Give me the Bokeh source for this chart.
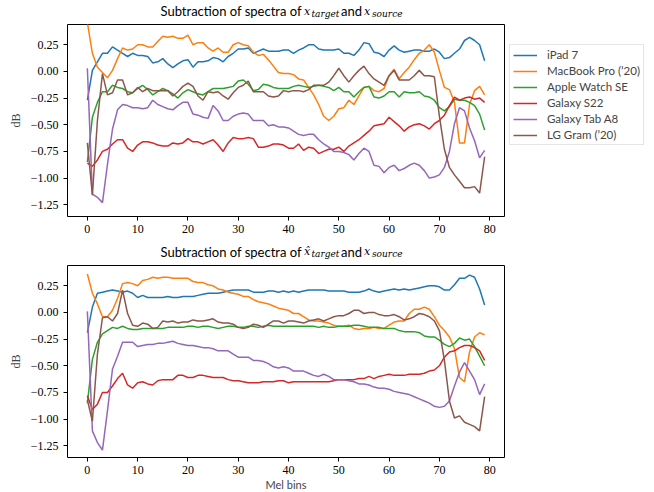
from bokeh.plotting import figure
from bokeh.layouts import column
from bokeh.models import Range1d, FixedTicker, Legend, LegendItem, Label, CustomJSTickFormatter
from bokeh.embed import file_html
from bokeh.resources import INLINE

mel_bins = list(range(80))
devices = ["iPad 7", "MacBook Pro (\u201920)", "Apple Watch SE", "Galaxy S22", "Galaxy Tab A8", "LG Gram (\u201920)"]
colors = ["#1f77b4", "#ff7f0e", "#2ca02c", "#d62728", "#9467bd", "#8c564b"]
x_ticks = [0, 10, 20, 30, 40, 50, 60, 70, 80]
y_ticks = [0.25, 0.0, -0.25, -0.5, -0.75, -1.0, -1.25]
y_tick_labels = ["0.25", "0.00", "\u22120.25", "\u22120.50", "\u22120.75", "\u22121.00", "\u22121.25"]

# ---- top panel: x_target - x_source
top_ipad7 = [-0.27, 0.01, 0.09, 0.17, 0.17, 0.23, 0.20, 0.17, 0.14, 0.17,
             0.15, 0.15, 0.14, 0.08, 0.09, 0.12, 0.07, 0.035, 0.07, 0.10,
             0.11, 0.04, 0.09, 0.09, 0.10, 0.13, 0.12, 0.09, 0.14, 0.17,
             0.21, 0.21, 0.22, 0.17, 0.19, 0.21, 0.19, 0.19, 0.19, 0.20,
             0.20, 0.17, 0.20, 0.22, 0.25, 0.25, 0.21, 0.20, 0.20, 0.20,
             0.21, 0.17, 0.17, 0.15, 0.20, 0.27, 0.26, 0.18, 0.17, 0.14,
             0.20, 0.24, 0.20, 0.18, 0.19, 0.20, 0.20, 0.19, 0.19, 0.21,
             0.18, 0.12, 0.13, 0.17, 0.21, 0.29, 0.32, 0.29, 0.25, 0.10]
top_macbook = [0.46, 0.17, 0.04, -0.01, -0.06, 0.01, 0.12, 0.22, 0.20, 0.21,
               0.25, 0.25, 0.23, 0.23, 0.28, 0.33, 0.32, 0.33, 0.31, 0.31,
               0.34, 0.25, 0.27, 0.27, 0.22, 0.19, 0.22, 0.18, 0.18, 0.25,
               0.27, 0.25, 0.24, 0.18, 0.15, 0.16, 0.11, 0.05, -0.01, -0.02,
               -0.02, -0.03, -0.07, -0.08, -0.15, -0.22, -0.31, -0.42, -0.46, -0.42,
               -0.35, -0.34, -0.27, -0.31, -0.23, -0.15, -0.14, -0.18, -0.19, -0.16,
               -0.04, 0.02, -0.07, -0.01, 0.04, 0.11, 0.17, 0.20, 0.25, 0.18,
               0.01, -0.15, -0.17, -0.29, -0.67, -0.67, -0.31, -0.18, -0.14, -0.22]
top_watch = [-0.85, -0.43, -0.29, -0.19, -0.19, -0.13, -0.15, -0.16, -0.19, -0.20,
             -0.16, -0.13, -0.17, -0.22, -0.19, -0.16, -0.18, -0.21, -0.25, -0.20,
             -0.17, -0.19, -0.21, -0.22, -0.19, -0.16, -0.16, -0.16, -0.15, -0.14,
             -0.09, -0.08, -0.12, -0.18, -0.17, -0.12, -0.13, -0.15, -0.16, -0.16,
             -0.16, -0.14, -0.13, -0.14, -0.15, -0.14, -0.13, -0.14, -0.15, -0.18,
             -0.15, -0.19, -0.19, -0.24, -0.19, -0.15, -0.14, -0.24, -0.25, -0.23,
             -0.19, -0.19, -0.24, -0.19, -0.20, -0.20, -0.19, -0.23, -0.24, -0.27,
             -0.34, -0.37, -0.33, -0.26, -0.27, -0.27, -0.29, -0.32, -0.40, -0.55]
top_s22 = [-0.86, -0.89, -0.83, -0.75, -0.73, -0.68, -0.64, -0.64, -0.72, -0.75,
           -0.69, -0.66, -0.66, -0.67, -0.69, -0.70, -0.70, -0.67, -0.68, -0.67,
           -0.63, -0.66, -0.66, -0.68, -0.66, -0.64, -0.69, -0.75, -0.67, -0.62,
           -0.63, -0.63, -0.62, -0.63, -0.71, -0.71, -0.70, -0.68, -0.68, -0.69,
           -0.72, -0.72, -0.68, -0.74, -0.71, -0.72, -0.77, -0.75, -0.73, -0.73,
           -0.71, -0.75, -0.70, -0.67, -0.64, -0.60, -0.56, -0.51, -0.50, -0.49,
           -0.43, -0.47, -0.51, -0.56, -0.52, -0.50, -0.49, -0.51, -0.54, -0.49,
           -0.46, -0.41, -0.32, -0.24, -0.27, -0.25, -0.24, -0.26, -0.25, -0.29]
top_taba8 = [0.03, -1.15, -1.18, -1.23, -0.87, -0.54, -0.36, -0.31, -0.32, -0.34,
             -0.34, -0.35, -0.34, -0.27, -0.31, -0.33, -0.35, -0.36, -0.32, -0.29,
             -0.29, -0.40, -0.41, -0.43, -0.44, -0.32, -0.37, -0.46, -0.46, -0.42,
             -0.40, -0.39, -0.40, -0.46, -0.46, -0.46, -0.51, -0.50, -0.52, -0.52,
             -0.53, -0.56, -0.59, -0.60, -0.59, -0.59, -0.64, -0.68, -0.71, -0.75,
             -0.75, -0.76, -0.78, -0.83, -0.77, -0.72, -0.75, -0.88, -0.89, -0.95,
             -0.90, -0.88, -0.93, -0.91, -0.88, -0.86, -0.88, -0.93, -1.00, -0.99,
             -0.97, -0.90, -0.75, -0.49, -0.34, -0.37, -0.53, -0.65, -0.81, -0.74]
top_lggram = [-0.67, -1.16, -0.46, -0.02, -0.22, -0.20, -0.08, -0.08, -0.22, -0.20,
              -0.15, -0.19, -0.16, -0.18, -0.18, -0.18, -0.18, -0.23, -0.19, -0.14,
              -0.11, -0.14, -0.23, -0.27, -0.19, -0.20, -0.19, -0.23, -0.26, -0.20,
              -0.15, -0.13, -0.09, -0.19, -0.19, -0.19, -0.23, -0.24, -0.23, -0.18,
              -0.19, -0.18, -0.18, -0.19, -0.17, -0.13, -0.13, -0.13, -0.10, -0.04,
              0.03, -0.04, -0.10, -0.04, 0.01, 0.05, -0.02, -0.07, -0.10, -0.13,
              -0.04, 0.01, -0.08, -0.08, -0.08, -0.04, 0.01, -0.04, -0.04, -0.05,
              -0.42, -0.73, -0.90, -0.97, -1.03, -1.09, -1.09, -1.08, -1.14, -0.80]

# ---- bottom panel: x_hat_target - x_source
bot_ipad7 = [-0.19, 0.05, 0.18, 0.19, 0.20, 0.21, 0.20, 0.19, 0.20, 0.18,
             0.14, 0.16, 0.14, 0.14, 0.14, 0.14, 0.15, 0.14, 0.14, 0.15,
             0.15, 0.15, 0.16, 0.17, 0.18, 0.18, 0.18, 0.19, 0.20, 0.21,
             0.21, 0.21, 0.21, 0.19, 0.19, 0.19, 0.20, 0.20, 0.19, 0.20,
             0.19, 0.20, 0.19, 0.20, 0.21, 0.21, 0.21, 0.21, 0.20, 0.20,
             0.20, 0.20, 0.19, 0.19, 0.19, 0.20, 0.22, 0.20, 0.19, 0.20,
             0.21, 0.22, 0.21, 0.22, 0.21, 0.22, 0.23, 0.24, 0.25, 0.25,
             0.24, 0.21, 0.21, 0.26, 0.32, 0.32, 0.35, 0.33, 0.22, 0.07]
bot_macbook = [0.36, 0.18, 0.08, -0.04, -0.04, 0.02, 0.13, 0.27, 0.28, 0.27,
               0.25, 0.30, 0.31, 0.33, 0.32, 0.33, 0.33, 0.32, 0.32, 0.32,
               0.32, 0.29, 0.28, 0.28, 0.26, 0.25, 0.22, 0.21, 0.19, 0.18,
               0.17, 0.15, 0.15, 0.12, 0.10, 0.09, 0.08, 0.06, 0.04, 0.03,
               0.02, -0.01, -0.01, -0.04, -0.07, -0.08, -0.08, -0.09, -0.10, -0.12,
               -0.13, -0.13, -0.12, -0.15, -0.16, -0.15, -0.15, -0.14, -0.15, -0.15,
               -0.12, -0.09, -0.08, -0.08, -0.01, 0.03, 0.03, 0.05, 0.03, -0.04,
               -0.12, -0.17, -0.23, -0.34, -0.61, -0.65, -0.37, -0.23, -0.19, -0.21]
bot_watch = [-0.85, -0.44, -0.28, -0.20, -0.17, -0.14, -0.15, -0.13, -0.15, -0.16,
             -0.16, -0.15, -0.15, -0.15, -0.15, -0.15, -0.14, -0.14, -0.14, -0.14,
             -0.13, -0.13, -0.14, -0.13, -0.13, -0.14, -0.15, -0.14, -0.13, -0.13,
             -0.14, -0.14, -0.13, -0.13, -0.14, -0.13, -0.12, -0.13, -0.13, -0.13,
             -0.13, -0.13, -0.13, -0.13, -0.13, -0.13, -0.14, -0.13, -0.14, -0.14,
             -0.13, -0.13, -0.13, -0.12, -0.12, -0.13, -0.14, -0.14, -0.14, -0.15,
             -0.15, -0.15, -0.17, -0.18, -0.18, -0.18, -0.19, -0.22, -0.23, -0.23,
             -0.26, -0.30, -0.32, -0.29, -0.24, -0.26, -0.25, -0.32, -0.41, -0.50]
bot_s22 = [-0.78, -0.91, -0.86, -0.75, -0.75, -0.69, -0.62, -0.57, -0.68, -0.71,
           -0.66, -0.65, -0.67, -0.68, -0.64, -0.63, -0.63, -0.63, -0.59, -0.59,
           -0.61, -0.61, -0.59, -0.59, -0.60, -0.61, -0.61, -0.61, -0.63, -0.64,
           -0.64, -0.65, -0.66, -0.66, -0.66, -0.65, -0.65, -0.65, -0.64, -0.64,
           -0.66, -0.65, -0.65, -0.65, -0.65, -0.65, -0.65, -0.65, -0.65, -0.64,
           -0.63, -0.63, -0.63, -0.63, -0.62, -0.62, -0.60, -0.62, -0.60, -0.59,
           -0.58, -0.59, -0.59, -0.59, -0.58, -0.58, -0.58, -0.57, -0.55, -0.54,
           -0.50, -0.42, -0.37, -0.36, -0.33, -0.31, -0.31, -0.33, -0.36, -0.45]
bot_taba8 = [0.01, -1.11, -1.22, -1.29, -0.92, -0.53, -0.41, -0.28, -0.28, -0.28,
             -0.32, -0.31, -0.30, -0.30, -0.29, -0.29, -0.28, -0.27, -0.29, -0.30,
             -0.31, -0.31, -0.32, -0.33, -0.33, -0.34, -0.36, -0.36, -0.36, -0.39,
             -0.42, -0.42, -0.42, -0.45, -0.45, -0.46, -0.48, -0.51, -0.52, -0.51,
             -0.52, -0.55, -0.55, -0.55, -0.57, -0.59, -0.60, -0.58, -0.60, -0.63,
             -0.63, -0.63, -0.64, -0.65, -0.67, -0.67, -0.68, -0.70, -0.71, -0.71,
             -0.72, -0.74, -0.75, -0.76, -0.77, -0.79, -0.81, -0.83, -0.85, -0.88,
             -0.89, -0.88, -0.83, -0.69, -0.56, -0.47, -0.55, -0.63, -0.77, -0.67]
bot_lggram = [-0.82, -1.02, -0.39, -0.05, -0.04, -0.08, -0.01, 0.21, -0.01, -0.12,
              -0.13, -0.10, -0.11, -0.15, -0.14, -0.08, -0.09, -0.08, -0.10, -0.09,
              -0.09, -0.07, -0.08, -0.08, -0.07, -0.06, -0.09, -0.10, -0.10, -0.11,
              -0.14, -0.15, -0.14, -0.11, -0.12, -0.14, -0.11, -0.08, -0.08, -0.10,
              -0.08, -0.08, -0.09, -0.10, -0.08, -0.07, -0.06, -0.08, -0.06, -0.04,
              -0.03, -0.03, -0.01, 0.02, 0.02, -0.01, 0.00, 0.00, -0.02, -0.03,
              -0.03, -0.02, -0.04, -0.07, -0.06, -0.04, -0.01, -0.02, -0.04, -0.08,
              -0.17, -0.45, -0.83, -0.99, -0.97, -1.03, -1.05, -1.07, -1.11, -0.79]

top_series = [top_ipad7, top_macbook, top_watch, top_s22, top_taba8, top_lggram]
bot_series = [bot_ipad7, bot_macbook, bot_watch, bot_s22, bot_taba8, bot_lggram]

SANS = "Lato"
SERIF = "Liberation Serif"
MATH = "DejaVu Serif"

FRAME_W = 437
BORDER_L = 67
BORDER_R = 144


def title_strip(height, baseline, hat):
    """A thin axis-less figure that only carries the title text."""
    t = figure(frame_width=FRAME_W, frame_height=height,
               x_range=Range1d(0, 1), y_range=Range1d(0, 1),
               x_axis_type=None, y_axis_type=None,
               output_backend="svg", toolbar_location=None,
               min_border_left=BORDER_L, min_border_right=BORDER_R,
               min_border_top=0, min_border_bottom=0)
    t.title.visible = False
    t.grid.visible = False
    t.outline_line_color = None
    t.background_fill_color = "white"
    t.border_fill_color = "white"
    pieces = [
        (93, 0, "Subtraction of spectra of", SANS, "13px", "normal"),
        (236.5, 0, "x\u0302" if hat else "x", MATH, "11px", "italic"),
        (244, -2.5, "target", MATH, "9px", "italic"),
        (273.5, 0, "and", SANS, "13px", "normal"),
        (296.5, 0, "x", MATH, "11px", "italic"),
        (304.5, -2.5, "source", MATH, "9px", "italic"),
    ]
    for px, dy, txt, fnt, size, style in pieces:
        t.add_layout(Label(x=px, y=baseline + dy, x_units="screen", y_units="screen",
                           text=txt, text_font=fnt, text_font_size=size,
                           text_font_style=style, text_color="black",
                           text_align="left", text_baseline="alphabetic"))
    return t


def make_fig(series, border_bottom, xlabel, with_legend):
    p = figure(frame_width=FRAME_W, frame_height=192,
               x_range=Range1d(-3.95, 82.95), y_range=Range1d(-1.36, 0.44),
               output_backend="svg", toolbar_location=None,
               min_border_left=BORDER_L, min_border_right=BORDER_R,
               min_border_top=0, min_border_bottom=border_bottom)
    p.title.visible = False
    p.grid.visible = False
    p.outline_line_color = "black"
    p.outline_line_width = 1
    p.background_fill_color = "white"
    p.border_fill_color = "white"

    for ax in (p.xaxis[0], p.yaxis[0]):
        ax.axis_line_color = None
        ax.major_tick_line_color = "black"
        ax.major_tick_in = 0
        ax.major_tick_out = 4
        ax.minor_tick_line_color = None
        ax.major_label_text_font = SERIF
        ax.major_label_text_font_size = "12px"
        ax.major_label_text_color = "black"
    p.xaxis.ticker = FixedTicker(ticks=x_ticks)
    p.xaxis.major_label_standoff = 4
    p.yaxis.ticker = FixedTicker(ticks=y_ticks)
    p.yaxis.formatter = CustomJSTickFormatter(
        args=dict(vals=y_ticks, labs=y_tick_labels),
        code="""
        for (let i = 0; i < vals.length; i++) {
            if (Math.abs(vals[i] - tick) < 1e-9) { return labs[i]; }
        }
        return tick.toFixed(2);
        """)
    p.yaxis.major_label_standoff = 5
    p.yaxis.axis_label = "dB"
    p.yaxis.axis_label_text_font = SERIF
    p.yaxis.axis_label_text_font_style = "normal"
    p.yaxis.axis_label_text_font_size = "12px"
    p.yaxis.axis_label_standoff = 5
    if xlabel:
        p.xaxis.axis_label = xlabel
        p.xaxis.axis_label_text_font = SANS
        p.xaxis.axis_label_text_font_style = "normal"
        p.xaxis.axis_label_text_font_size = "11px"
        p.xaxis.axis_label_standoff = 1

    items = []
    for name, col, ys in zip(devices, colors, series):
        r = p.line(mel_bins, ys, line_color=col, line_width=1.5)
        items.append(LegendItem(label=name, renderers=[r]))

    if with_legend:
        leg = Legend(items=items, location=(5, 71), orientation="vertical",
                     label_text_font=SANS, label_text_font_size="11.5px",
                     label_height=12, glyph_height=12, glyph_width=24,
                     label_standoff=10, spacing=3, padding=3, margin=0,
                     border_line_color="#cccccc", border_line_width=1,
                     background_fill_color="white", background_fill_alpha=0.8)
        p.add_layout(leg, "right")
    return p


t1 = title_strip(24, 13.5, False)
p1 = make_fig(top_series, 23, None, True)
t2 = title_strip(26, 14, True)
p2 = make_fig(bot_series, 34, "Mel bins", False)

layout = column(t1, p1, t2, p2, spacing=0)
open("out.html", "w").write(file_html(layout, INLINE))
